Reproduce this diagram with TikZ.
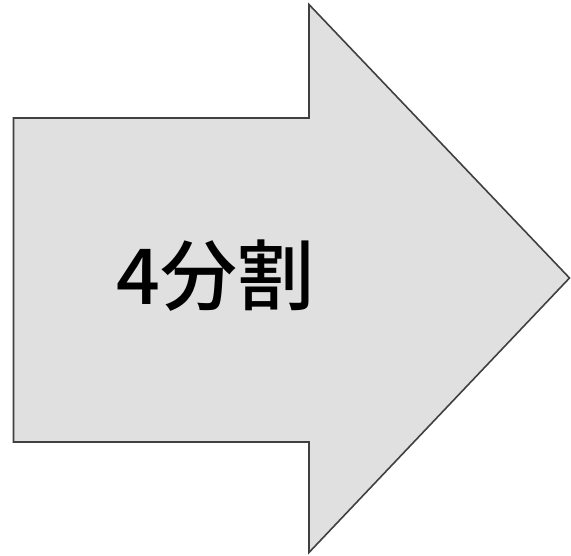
\documentclass[tikz,border=0pt]{standalone}
\usepackage{fontspec}
\newfontfamily\cjk{Noto Sans CJK JP Medium}
\begin{document}
\begin{tikzpicture}[x=1pt,y=-1pt,
  arrowshape/.style={draw={rgb,255:red,64;green,64;blue,64},line width=1.6pt,fill={rgb,255:red,224;green,224;blue,224},line join=miter},
  lbl/.style={font=\cjk\fontsize{77}{90}\selectfont,inner sep=0pt}]
\useasboundingbox (0,0) rectangle (571,556);
\draw[arrowshape] (13.5,118) -- (309,118) -- (309,4.5) -- (569.5,278) -- (309,552.5) -- (309,442) -- (13.5,442) -- cycle;
\node[lbl] (t) at (215.5,276) {4分割};
\end{tikzpicture}
\end{document}
